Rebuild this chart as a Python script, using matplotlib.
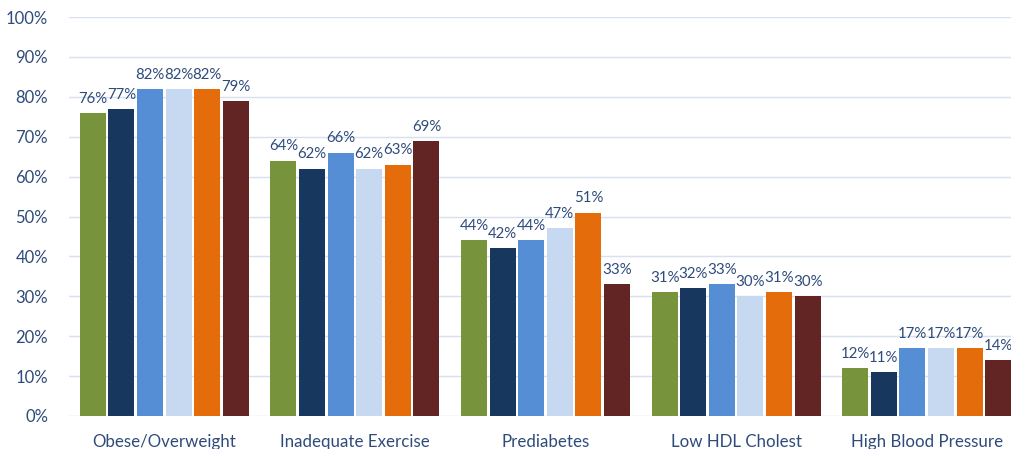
import matplotlib
matplotlib.use("Agg")
import matplotlib.pyplot as plt
import numpy as np

categories = ["Obese/Overweight", "Inadequate Exercise", "Prediabetes", "Low HDL Cholest", "High Blood Pressure"]
series_a = [76, 64, 44, 31, 12]
series_b = [77, 62, 42, 32, 11]
series_c = [82, 66, 44, 33, 17]
series_d = [82, 62, 47, 30, 17]
series_e = [82, 63, 51, 31, 17]
series_f = [79, 69, 33, 30, 14]
all_series = [series_a, series_b, series_c, series_d, series_e, series_f]
colors = ["#77933C", "#17375E", "#558ED5", "#C6D9F1", "#E46C0A", "#632523"]
yticks = [0, 10, 20, 30, 40, 50, 60, 70, 80, 90, 100]

plt.rcParams['font.family'] = ['Lato', 'DejaVu Sans']
text_color = "#2E4B7A"

fig = plt.figure(figsize=(10.11, 4.49), dpi=100)
W, H = 1011, 449
left, right = 69, 1022
bottom, top = 416, 17
ax = fig.add_axes([left / W, 1 - bottom / H, (right - left) / W, (bottom - top) / H])

x = np.arange(len(categories))
pitch = 0.15
bw = 0.136
for i, (vals, c) in enumerate(zip(all_series, colors)):
    pos = x + (i - 2.5) * pitch
    ax.bar(pos, vals, width=bw, color=c, zorder=3)
    for p, v in zip(pos, vals):
        ax.text(p, v + 1.8, f"{v}%", ha="center", va="bottom", fontsize=10.8, color=text_color, zorder=4)

ax.set_xlim(-0.5, len(categories) - 0.5)
ax.set_ylim(0, 100)
ax.set_yticks(yticks)
ax.set_yticklabels([f"{t}%" for t in yticks], fontsize=12, color=text_color)
ax.set_xticks(x)
ax.set_xticklabels(categories, fontsize=12.2, color=text_color)
ax.tick_params(axis="both", length=0)
ax.tick_params(axis="y", pad=15)
ax.tick_params(axis="x", pad=13)
ax.grid(axis="y", color="#D6E0EF", linewidth=1, zorder=0)
for s in ax.spines.values():
    s.set_visible(False)

fig.savefig("out.png", dpi=100)
